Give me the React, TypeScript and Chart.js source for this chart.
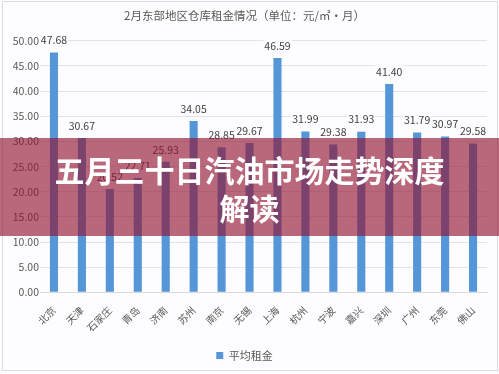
import React, { useEffect, useRef } from "react";
import { Chart, registerables } from "chart.js";

Chart.register(...registerables);

const title = "2月东部地区仓库租金情况（单位：元/㎡·月）";
const seriesName = "平均租金";
const categories = ["北京", "天津", "石家庄", "青岛", "济南", "苏州", "南京", "无锡", "上海", "杭州", "宁波", "嘉兴", "深圳", "广州", "东莞", "佛山"];
const rents = [47.68, 30.67, 20.52, 22.71, 25.93, 34.05, 28.85, 29.67, 46.59, 31.99, 29.38, 31.93, 41.4, 31.79, 30.97, 29.58];
const bannerLine1 = "五月三十日汽油市场走势深度";
const bannerLine2 = "解读";

const FONT = "'Noto Sans CJK SC', 'Noto Sans', sans-serif";

const labelPlugin = {
  id: "barLabels",
  afterDatasetsDraw(chart: any) {
    const ctx = chart.ctx;
    const meta = chart.getDatasetMeta(0);
    ctx.save();
    ctx.font = `10.5px ${FONT}`;
    ctx.textAlign = "center";
    ctx.textBaseline = "bottom";
    meta.data.forEach((el: any, i: number) => {
      const txt = rents[i].toFixed(2);
      const w = ctx.measureText(txt).width;
      const y = el.y - 7;
      ctx.fillStyle = "#fdfcfe";
      ctx.fillRect(el.x - w / 2 - 1, y - 12, w + 2, 12);
      ctx.fillStyle = "#404040";
      ctx.fillText(txt, el.x, y);
    });
    ctx.restore();
  },
};

export default function App() {
  const ref = useRef<HTMLCanvasElement>(null);
  useEffect(() => {
    document.body.style.margin = "0";
    const chart = new Chart(ref.current!, {
      type: "bar",
      data: {
        labels: categories,
        datasets: [
          {
            label: seriesName,
            data: rents,
            backgroundColor: "#5596d9",
            borderWidth: 0,
            barPercentage: 0.58,
            categoryPercentage: 0.5,
          },
        ],
      },
      options: {
        animation: false,
        responsive: false,
        maintainAspectRatio: false,
        layout: { padding: { left: 2, right: 12, top: 5, bottom: 3 } },
        plugins: {
          title: {
            display: true,
            text: title,
            color: "#595959",
            font: { family: FONT, size: 11.5, weight: "normal" },
            padding: { top: 4, bottom: 18 },
          },
          legend: {
            position: "bottom",
            labels: {
              boxWidth: 7,
              boxHeight: 7,
              color: "#595959",
              font: { family: FONT, size: 11 },
              padding: 12,
            },
          },
          tooltip: { enabled: false },
        },
        scales: {
          x: {
            grid: { display: false },
            border: { color: "#d9d9d9" },
            ticks: {
              color: "#595959",
              font: { family: FONT, size: 10 },
              maxRotation: 45,
              minRotation: 45,
              autoSkip: false,
              padding: 4,
            },
          },
          y: {
            min: 0,
            max: 50,
            grid: { color: "#e3e3e3", drawTicks: false },
            border: { display: false },
            afterFit: (s: any) => {
              s.width = 38;
            },
            ticks: {
              stepSize: 5,
              color: "#595959",
              font: { family: FONT, size: 10.5 },
              callback: (v: any) => Number(v).toFixed(2),
              padding: 1,
            },
          },
        },
      },
      plugins: [labelPlugin],
    });
    return () => chart.destroy();
  }, []);

  return (
    <div style={{ position: "relative", width: 499, height: 374, background: "#fdfcfe", overflow: "hidden" }}>
      <canvas ref={ref} width={499} height={374} style={{ position: "absolute", left: 0, top: 0 }} />
      <div
        style={{
          position: "absolute",
          left: 2,
          top: 1,
          width: 494,
          height: 368,
          border: "1px solid #dcdcdc",
          pointerEvents: "none",
        }}
      />
      <div
        style={{
          position: "absolute",
          left: 0,
          top: 138,
          width: 499,
          height: 98,
          background: "rgba(146,18,48,0.63)",
          color: "#ffffff",
          fontFamily: FONT,
          fontWeight: 700,
          fontSize: 30,
          lineHeight: "38px",
          textAlign: "center",
          paddingTop: 12,
          boxSizing: "border-box",
        }}
      >
        <div>{bannerLine1}</div>
        <div>{bannerLine2}</div>
      </div>
    </div>
  );
}
